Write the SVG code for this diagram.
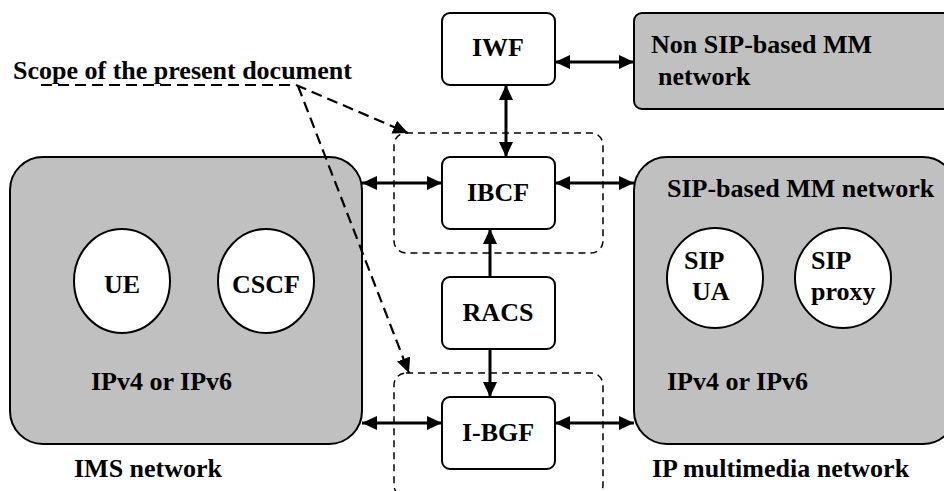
<svg xmlns="http://www.w3.org/2000/svg" width="944" height="491" viewBox="0 0 944 491">
<style>
text{font-family:'Liberation Serif',serif;font-weight:700;font-size:26px;fill:#000}
.m{text-anchor:middle}
.box{fill:#fff;stroke:#000;stroke-width:2}
.net{fill:#c0c0c0;stroke:#000;stroke-width:2}
.circ{fill:#fff;stroke:#000;stroke-width:2}
.conn{stroke:#000;stroke-width:3;fill:none}
.scope{stroke:#000;stroke-width:1.5;fill:none;stroke-dasharray:7 5}
.ptr{stroke:#000;stroke-width:2.2;fill:none;stroke-dasharray:11 6}
</style>
<defs>
<marker id="ah" markerUnits="userSpaceOnUse" markerWidth="16" markerHeight="14" refX="15" refY="7" orient="auto-start-reverse">
<path d="M0,0 L15,7 L0,14 z" fill="#000"/>
</marker>
</defs>
<g id="ims">
<rect class="net" x="10" y="157" width="352" height="287" rx="33"/>
<text font-family="Liberation Serif" x="91" y="390">IPv4 or IPv6</text>
<text font-family="Liberation Serif" x="74" y="477">IMS network</text>
</g>
<g id="ue"><ellipse class="circ" cx="122" cy="281" rx="48" ry="52"/><text font-family="Liberation Serif" class="m" x="122" y="293">UE</text></g>
<g id="cscf"><ellipse class="circ" cx="266" cy="281" rx="48" ry="52"/><text font-family="Liberation Serif" class="m" x="266" y="293">CSCF</text></g>
<g id="sipnet">
<rect class="net" x="634" y="157" width="322" height="287" rx="33"/>
<text font-family="Liberation Serif" x="667" y="197">SIP-based MM network</text>
<text font-family="Liberation Serif" x="667" y="390">IPv4 or IPv6</text>
<text font-family="Liberation Serif" x="652" y="477">IP multimedia network</text>
</g>
<g id="sipua"><ellipse class="circ" cx="715" cy="278" rx="48" ry="50"/><text font-family="Liberation Serif" x="684" y="269">SIP</text><text font-family="Liberation Serif" x="692" y="300">UA</text></g>
<g id="sipproxy"><ellipse class="circ" cx="843" cy="278" rx="48" ry="50"/><text font-family="Liberation Serif" x="811" y="269">SIP</text><text font-family="Liberation Serif" x="811" y="300">proxy</text></g>
<g id="nonsip">
<rect class="net" x="634" y="13" width="330" height="96" rx="8"/>
<text font-family="Liberation Serif" x="651" y="53">Non SIP-based MM</text>
<text font-family="Liberation Serif" x="658" y="85">network</text>
</g>
<g id="iwf"><rect class="box" x="442" y="13" width="113" height="72" rx="8"/><text font-family="Liberation Serif" class="m" x="498" y="56">IWF</text></g>
<g id="ibcf"><rect class="box" x="442" y="157" width="113" height="72" rx="8"/><text font-family="Liberation Serif" class="m" x="498" y="201">IBCF</text></g>
<g id="racs"><rect class="box" x="442" y="277" width="113" height="72" rx="8"/><text font-family="Liberation Serif" class="m" x="498" y="321">RACS</text></g>
<g id="ibgf"><rect class="box" x="442" y="397" width="113" height="72" rx="8"/><text font-family="Liberation Serif" class="m" x="498" y="441">I-BGF</text></g>
<g id="scope">
<rect class="scope" x="394" y="133" width="209" height="120" rx="12"/>
<rect class="scope" x="394" y="373" width="209" height="124" rx="12"/>
<text font-family="Liberation Serif" x="13" y="79">Scope of the present document</text>
</g>
<g id="connectors">
<line class="conn" x1="555" y1="62" x2="634" y2="62" marker-start="url(#ah)" marker-end="url(#ah)"/>
<line class="conn" x1="506" y1="85" x2="506" y2="157" marker-start="url(#ah)" marker-end="url(#ah)"/>
<line class="conn" x1="362" y1="183" x2="442" y2="183" marker-start="url(#ah)" marker-end="url(#ah)"/>
<line class="conn" x1="555" y1="183" x2="634" y2="183" marker-start="url(#ah)" marker-end="url(#ah)"/>
<line class="conn" x1="490" y1="277" x2="490" y2="229" marker-end="url(#ah)"/>
<line class="conn" x1="490" y1="349" x2="490" y2="397" marker-end="url(#ah)"/>
<line class="conn" x1="362" y1="423" x2="442" y2="423" marker-start="url(#ah)" marker-end="url(#ah)"/>
<line class="conn" x1="555" y1="423" x2="634" y2="423" marker-start="url(#ah)" marker-end="url(#ah)"/>
<polyline class="ptr" points="41,85 296,85 408,133" marker-end="url(#ah)"/>
<line class="ptr" x1="298" y1="86" x2="409" y2="373" marker-end="url(#ah)"/>
</g>
</svg>
